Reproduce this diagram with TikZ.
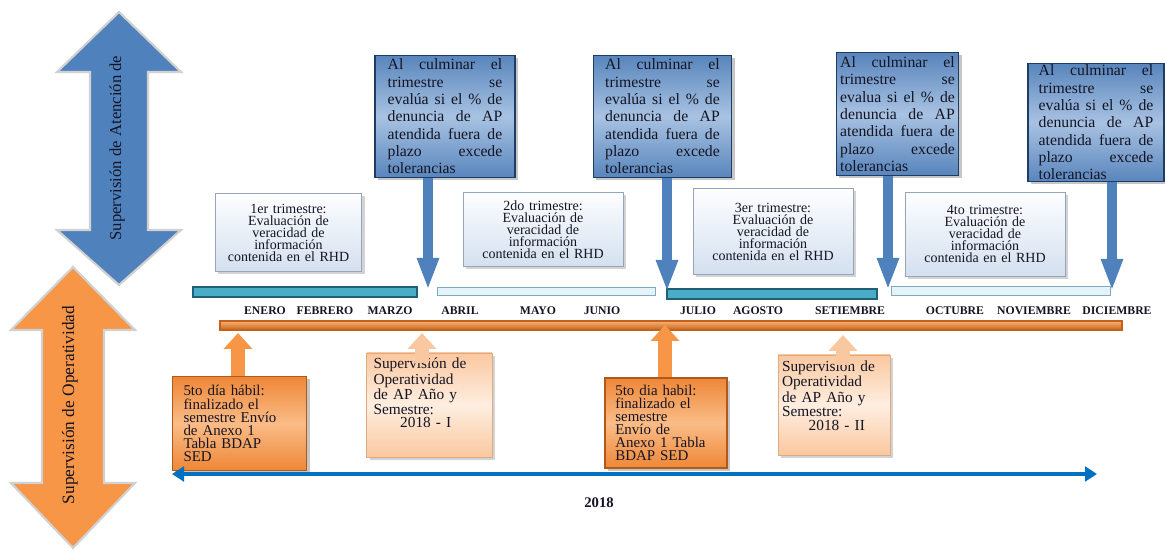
\documentclass[tikz,border=0pt]{standalone}
\usepackage{fontspec}
\setmainfont{Liberation Serif}
\usetikzlibrary{arrows.meta,shadows}
\definecolor{ArrowBlue}{RGB}{79,129,189}
\definecolor{ArrowOrange}{RGB}{247,150,70}
\definecolor{BoxBlue}{RGB}{88,133,188}
\definecolor{BoxBlueMid}{RGB}{168,194,226}
\definecolor{BoxNavy}{RGB}{31,60,100}
\definecolor{PaleTop}{RGB}{253,254,255}
\definecolor{PaleBot}{RGB}{212,224,239}
\definecolor{PaleLine}{RGB}{150,165,185}
\definecolor{TealBar}{RGB}{75,172,198}
\definecolor{TealDark}{RGB}{33,95,120}
\definecolor{IceBar}{RGB}{228,243,248}
\definecolor{IceLine}{RGB}{125,170,190}
\definecolor{OrangeDark}{RGB}{238,135,55}
\definecolor{OrangeMid}{RGB}{250,188,135}
\definecolor{OrangeLine}{RGB}{175,90,25}
\definecolor{PeachTop}{RGB}{250,200,160}
\definecolor{PeachMid}{RGB}{254,238,224}
\definecolor{PeachLine}{RGB}{222,170,130}
\definecolor{BarTop}{RGB}{250,178,115}
\definecolor{BarBot}{RGB}{196,98,28}
\definecolor{LineBlue}{RGB}{0,112,192}
\definecolor{Ink}{RGB}{20,20,35}
\tikzset{
  >=Latex,
  bigarrow/.style={draw=black!18,line width=1.6pt,line join=miter},
  sidelabel/.style={rotate=90,text=Ink,font=\fontsize{12.5pt}{14pt}\selectfont},
  cuebox/.style={draw=BoxNavy,line width=.9pt,top color=BoxBlue,bottom color=BoxBlue,middle color=BoxBlueMid,drop shadow={shadow xshift=2pt,shadow yshift=-2pt,opacity=.45},align=justify,text width=86pt,text=Ink,font=\fontsize{11.8pt}{13pt}\selectfont,inner xsep=3pt,inner ysep=1pt,minimum height=92pt},
  quarter/.style={draw=PaleLine,line width=.6pt,top color=PaleTop,bottom color=PaleBot,drop shadow={shadow xshift=2pt,shadow yshift=-2pt,opacity=.35},align=center,text width=100pt,text=Ink,font=\fontsize{10.5pt}{9pt}\selectfont,inner sep=2pt},
  sendbox/.style={draw=OrangeLine,line width=.8pt,top color=OrangeDark,bottom color=OrangeDark,middle color=OrangeMid,drop shadow={shadow xshift=2pt,shadow yshift=-2pt,opacity=.45},align=left,text=Ink,font=\fontsize{11.2pt}{9.8pt}\selectfont,inner sep=2pt},
  supbox/.style={draw=PeachLine,line width=.6pt,top color=PeachTop,bottom color=PeachTop,middle color=PeachMid,drop shadow={shadow xshift=2pt,shadow yshift=-2pt,opacity=.35},align=left,text=Ink,font=\fontsize{11.5pt}{10pt}\selectfont,inner sep=3pt},
  tealbar/.style={draw=TealDark,line width=.8pt,fill=TealBar},
  icebar/.style={draw=IceLine,line width=.6pt,fill=IceBar},
  orangebar/.style={draw=BarBot,line width=.8pt,top color=BarTop,bottom color=BarBot},
  month/.style={text=Ink,font=\fontsize{8.8pt}{10pt}\selectfont\bfseries},
  downcue/.style={-{Triangle[width=15pt,length=24pt]},line width=7pt,draw=ArrowBlue},
  upcue/.style={-{Triangle[width=21pt,length=12pt]},line width=10pt,draw=ArrowOrange},
  upcuelight/.style={upcue,draw=PeachTop},
  yearline/.style={{Triangle[width=11pt,length=9pt]}-{Triangle[width=11pt,length=9pt]},line width=3pt,draw=LineBlue}
}
\begin{document}
\begin{tikzpicture}[x=0.75pt,y=-0.75pt]
  \useasboundingbox (0,0) rectangle (1165,552);
  \filldraw[bigarrow,fill=ArrowBlue] (119,12) -- (181,72) -- (148,72) -- (148,230) -- (181,230) -- (119,285) -- (57,230) -- (90,230) -- (90,72) -- (57,72) -- cycle;
  \filldraw[bigarrow,fill=ArrowOrange] (73,267) -- (135,330) -- (104,330) -- (104,483) -- (135,483) -- (73,548) -- (11,483) -- (42,483) -- (42,330) -- (11,330) -- cycle;
  \node[sidelabel] (atencion) at (117,148) {Supervisión de Atención de};
  \node[sidelabel,font=\fontsize{13pt}{15pt}\selectfont] (operat) at (70,405) {Supervisión de Operatividad};
  \draw[tealbar] (193,287) rectangle (417,297);
  \draw[icebar] (437,287) rectangle (655,295);
  \draw[tealbar] (667,289) rectangle (877,299);
  \draw[icebar] (891,286) rectangle (1110,295);
  \draw[orangebar] (220,321) rectangle (1122,330);
  \node[cuebox,minimum width=105pt] (t1) at (445,116.5) {Al culminar el\linebreak trimestre se\linebreak evalúa si el \% de\linebreak denuncia de AP\linebreak atendida fuera de\linebreak plazo excede\linebreak tolerancias};
  \node[cuebox,minimum width=104pt] (t2) at (662.5,116.5) {Al culminar el\linebreak trimestre se\linebreak evalúa si el \% de\linebreak denuncia de AP\linebreak atendida fuera de\linebreak plazo excede\linebreak tolerancias};
  \node[cuebox,minimum width=92pt] (t3) at (897.5,114) {Al culminar el\linebreak trimestre se\linebreak evalua si el \% de\linebreak denuncia de AP\linebreak atendida fuera de\linebreak plazo excede\linebreak tolerancias};
  \node[cuebox,minimum width=102pt,minimum height=89pt] (t4) at (1096,122.5) {Al culminar el\linebreak trimestre se\linebreak evalúa si el \% de\linebreak denuncia de AP\linebreak atendida fuera de\linebreak plazo excede\linebreak tolerancias};
  \node[quarter,minimum width=110pt,minimum height=59pt] (q1box) at (288.5,232.5) {1er trimestre:\\ Evaluación de\\ veracidad de\\ información\\ contenida en el RHD};
  \node[quarter,minimum width=120pt,minimum height=56pt] (q2box) at (543,229.5) {2do trimestre:\\ Evaluación de\\ veracidad de\\ información\\ contenida en el RHD};
  \node[quarter,minimum width=120pt,minimum height=64pt] (q3box) at (773,231.5) {3er trimestre:\\ Evaluación de\\ veracidad de\\ información\\ contenida en el RHD};
  \node[quarter,minimum width=120pt,minimum height=63pt] (q4box) at (985,234) {4to trimestre:\\ Evaluación de\\ veracidad de\\ información\\ contenida en el RHD};
  \coordinate (d1) at (428,290);
  \coordinate (d2) at (667,292);
  \coordinate (d3) at (888,290);
  \coordinate (d4) at (1112,291);
    \draw[downcue] (d1 |- t1.south) -- (d1);
    \draw[downcue] (d2 |- t2.south) -- (d2);
    \draw[downcue] (d3 |- t3.south) -- (d3);
    \draw[downcue] (d4 |- t4.south) -- (d4);
  \node[month] (m1) at (265,311) {ENERO};
  \node[month] (m2) at (325,311) {FEBRERO};
  \node[month] (m3) at (390,311) {MARZO};
  \node[month] (m4) at (460,311) {ABRIL};
  \node[month] (m5) at (538,311) {MAYO};
  \node[month] (m6) at (602,311) {JUNIO};
  \node[month] (m7) at (698,311) {JULIO};
  \node[month] (m8) at (758,311) {AGOSTO};
  \node[month] (m9) at (850,311) {SETIEMBRE};
  \node[month] (m10) at (955,311) {OCTUBRE};
  \node[month] (m11) at (1034,311) {NOVIEMBRE};
  \node[month] (m12) at (1117,311) {DICIEMBRE};
  \node[sendbox,text width=84pt,minimum width=101pt,minimum height=70pt] (s1) at (239.5,423.5) {5to día hábil:\\ finalizado el\\ semestre Envío\\ de Anexo 1\\ Tabla BDAP\\ SED};
  \node[supbox,text width=84pt,text depth=62pt,minimum width=94pt,minimum height=78pt] (p1) at (429.5,405) {Supervisión de\\ Operatividad\\ de AP Año y\\ Semestre:\\ \hspace*{20pt}2018 - I};
  \node[sendbox,text width=76pt,minimum width=91.5pt,minimum height=67.5pt] (s2) at (666,423) {5to dia habil:\\ finalizado el\\ semestre\\ Envío de\\ Anexo 1 Tabla\\ BDAP SED};
  \node[supbox,text width=78pt,text depth=58pt,minimum width=81pt,minimum height=75pt] (p2) at (834,405) {Supervisión de\\ Operatividad\\ de AP Año y\\ Semestre:\\ \hspace*{20pt}2018 - II};
  \coordinate (u1) at (238,333);
  \coordinate (u2) at (422,333);
  \coordinate (u3) at (665,325);
  \coordinate (u4) at (843,335);
    \draw[upcue] (u1 |- s1.north) -- (u1);
    \draw[upcuelight,shorten <=-8pt] (u2 |- p1.north) -- (u2);
    \draw[upcue] (u3 |- s2.north) -- (u3);
    \draw[upcuelight,shorten <=-8pt] (u4 |- p2.north) -- (u4);
  \coordinate (yl) at (172,474);
  \coordinate (yr) at (1097,474);
    \draw[yearline] (yl) -- (yr);
  \node[month,font=\fontsize{11pt}{12pt}\selectfont\bfseries] (year) at (599,503) {2018};
\end{tikzpicture}
\end{document}
